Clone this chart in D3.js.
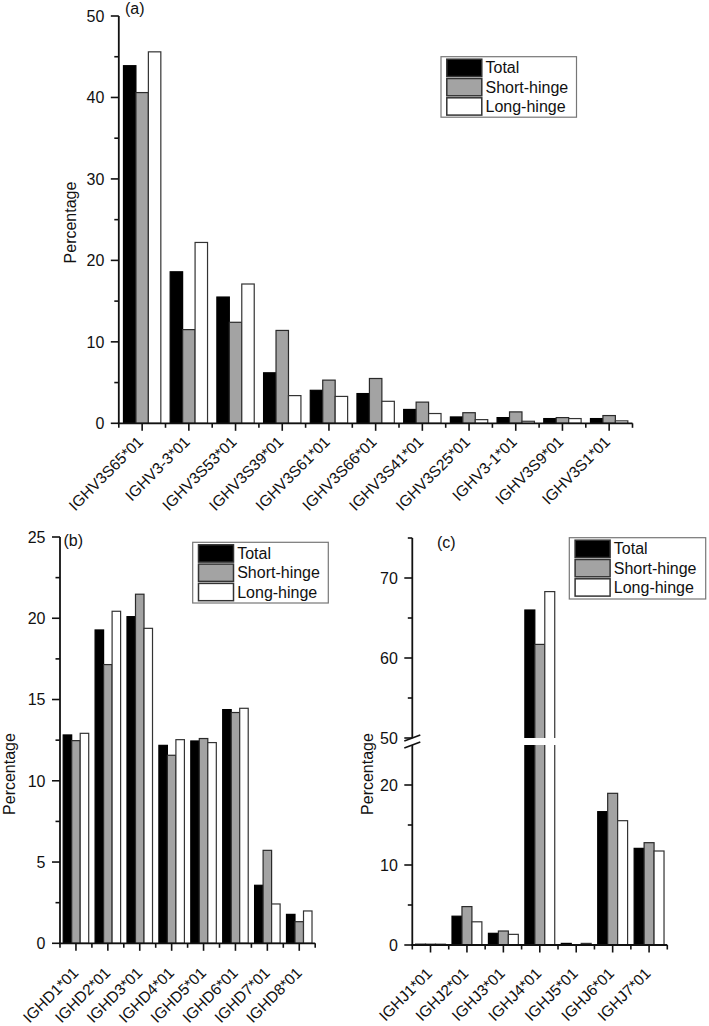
<!DOCTYPE html>
<html><head><meta charset="utf-8">
<script src="https://cdn.jsdelivr.net/npm/d3@7"></script>
<style>
body{margin:0;background:#fff}
text{font-family:"Liberation Sans",Arial,Helvetica,sans-serif;fill:#111}
</style>
</head><body>
<svg id="chart" width="709" height="1026"></svg>
<script>
// ---------- data ----------
const seriesNames = ["Total", "Short-hinge", "Long-hinge"];

const vGenes = ["IGHV3S65*01","IGHV3-3*01","IGHV3S53*01","IGHV3S39*01","IGHV3S61*01","IGHV3S66*01","IGHV3S41*01","IGHV3S25*01","IGHV3-1*01","IGHV3S9*01","IGHV3S1*01"];
const vTotal = [43.9, 18.6, 15.5, 6.2, 4.05, 3.65, 1.7, 0.78, 0.7, 0.58, 0.58];
const vShort = [40.6, 11.5, 12.4, 11.4, 5.3, 5.5, 2.6, 1.3, 1.4, 0.7, 0.95];
const vLong  = [45.6, 22.2, 17.1, 3.4, 3.3, 2.7, 1.2, 0.45, 0.25, 0.58, 0.3];
const vTicks = [0, 10, 20, 30, 40, 50];

const dGenes = ["IGHD1*01","IGHD2*01","IGHD3*01","IGHD4*01","IGHD5*01","IGHD6*01","IGHD7*01","IGHD8*01"];
const dTotal = [12.82, 19.28, 20.1, 12.18, 12.45, 14.38, 3.57, 1.78];
const dShort = [12.47, 17.15, 21.48, 11.57, 12.6, 14.2, 5.72, 1.33];
const dLong  = [12.92, 20.43, 19.38, 12.53, 12.35, 14.46, 2.42, 1.99];
const dTicks = [0, 5, 10, 15, 20, 25];

const jGenes = ["IGHJ1*01","IGHJ2*01","IGHJ3*01","IGHJ4*01","IGHJ5*01","IGHJ6*01","IGHJ7*01"];
const jTotal = [0.1, 3.6, 1.46, 66.0, 0.2, 16.67, 12.08];
const jShort = [0.1, 4.8, 1.75, 61.7, 0.05, 18.96, 12.79];
const jLong  = [0.1, 2.9, 1.33, 68.3, 0.2, 15.54, 11.75];
const jTicksLow = [0, 10, 20];
const jTicksHigh = [50, 60, 70];

const fills = ["#000000", "#a3a3a3", "#ffffff"];
const strokes = ["#000000", "#2a2a2a", "#333333"];

// ---------- drawing ----------
const svg = d3.select("#chart");
svg.append("rect").attr("width", 709).attr("height", 1026).attr("fill", "#fff");

function drawPanel(o) {
  const g = svg.append("g");
  const series = [o.total, o.short, o.long];
  const x = d3.scaleBand().domain(o.cats).range(o.xRange).paddingInner(o.pad).paddingOuter(o.pad / 2);
  const xs = d3.scaleBand().domain(d3.range(3)).range([0, x.bandwidth()]);
  const y = o.y;
  const y0 = y(0);

  o.cats.forEach((c, i) => {
    series.forEach((s, k) => {
      g.append("rect")
        .attr("x", x(c) + xs(k))
        .attr("width", xs.bandwidth())
        .attr("y", y(s[i]))
        .attr("height", Math.max(0, y0 - y(s[i])))
        .attr("fill", fills[k])
        .attr("stroke", strokes[k])
        .attr("stroke-width", 1.2);
    });
  });

  if (o.gap) {
    g.append("rect").attr("x", o.xRange[0] + 2).attr("width", o.xRange[1] - o.xRange[0])
      .attr("y", o.gap[0]).attr("height", o.gap[1] - o.gap[0]).attr("fill", "#fff");
  }

  const ax = o.xRange[0];
  const axisCol = "#111";
  o.ySegments.forEach(seg => {
    g.append("line").attr("x1", ax).attr("x2", ax).attr("y1", seg[0]).attr("y2", seg[1])
      .attr("stroke", axisCol).attr("stroke-width", 1.8);
  });
  o.yMajor.forEach(t => {
    g.append("line").attr("x1", ax - 8).attr("x2", ax).attr("y1", y(t)).attr("y2", y(t))
      .attr("stroke", axisCol).attr("stroke-width", 1.6);
    g.append("text").attr("x", ax - 14.5).attr("y", y(t)).attr("dy", "0.36em")
      .attr("text-anchor", "end").attr("font-size", 16).text(t);
  });
  o.yMinor.forEach(t => {
    g.append("line").attr("x1", ax - 4.5).attr("x2", ax).attr("y1", y(t)).attr("y2", y(t))
      .attr("stroke", axisCol).attr("stroke-width", 1.6);
  });
  g.append("line").attr("x1", ax - 1).attr("x2", o.xRange[1]).attr("y1", y0).attr("y2", y0)
    .attr("stroke", axisCol).attr("stroke-width", 1.8);
  const step = x.step();
  o.cats.forEach((c, i) => {
    const cx = x(c) + x.bandwidth() / 2;
    g.append("line").attr("x1", cx).attr("x2", cx).attr("y1", y0).attr("y2", y0 + 7.5)
      .attr("stroke", axisCol).attr("stroke-width", 1.6);
    g.append("text")
      .attr("transform", `translate(${cx + o.lab[0]},${y0 + o.lab[1]}) rotate(-45)`)
      .attr("text-anchor", "end").attr("font-size", 15.5).text(c);
  });
  d3.range(o.cats.length + 1).forEach(i => {
    const bx = o.xRange[0] + i * step;
    g.append("line").attr("x1", bx).attr("x2", bx).attr("y1", y0).attr("y2", y0 + 4.5)
      .attr("stroke", axisCol).attr("stroke-width", 1.6);
  });

  g.append("text").attr("transform", `translate(${o.titleX},${o.titleY}) rotate(-90)`)
    .attr("text-anchor", "middle").attr("dy", "0.35em").attr("font-size", 16).text("Percentage");
  g.append("text").attr("x", o.tag[0]).attr("y", o.tag[1]).attr("font-size", 16).text(o.tagText);

  const L = o.legend;
  const lg = g.append("g").attr("transform", `translate(${L[0]},${L[1]})`);
  lg.append("rect").attr("width", L[2]).attr("height", L[3]).attr("fill", "#fff")
    .attr("stroke", "#777").attr("stroke-width", 1.2);
  seriesNames.forEach((n, k) => {
    const ry = 2.5 + k * 19.3;
    lg.append("rect").attr("x", 5.8).attr("y", ry).attr("width", 35).attr("height", 17.3)
      .attr("fill", fills[k]).attr("stroke", "#333").attr("stroke-width", 1.5);
    lg.append("text").attr("x", 44.5).attr("y", ry + 14.3).attr("font-size", 16).text(n);
  });
}

// Panel (a)
const yA = d3.scaleLinear().domain([0, 50]).range([423.3, 16]);
drawPanel({
  cats: vGenes, total: vTotal, short: vShort, long: vLong,
  xRange: [118.8, 632.5], pad: 0.2,
  y: yA, ySegments: [[yA(0), yA(50)]],
  yMajor: vTicks, yMinor: d3.range(5, 50, 10),
  lab: [2, 19.5], titleX: 70.5, titleY: 222.5,
  tag: [125, 14], tagText: "(a)",
  legend: [441, 56.7, 135.5, 60.5]
});

// Panel (b)
const yB = d3.scaleLinear().domain([0, 25]).range([943.3, 537]);
drawPanel({
  cats: dGenes, total: dTotal, short: dShort, long: dLong,
  xRange: [60, 315.2], pad: 0.2,
  y: yB, ySegments: [[yB(0), yB(25)]],
  yMajor: dTicks, yMinor: d3.range(2.5, 25, 5),
  lab: [3.5, 30.5], titleX: 9.5, titleY: 774,
  tag: [63.5, 546], tagText: "(b)",
  legend: [192.7, 542.3, 135.6, 60.7]
});

// Panel (c) with broken axis
const yCLow = d3.scaleLinear().domain([0, 25]).range([945, 745]);
const yCHigh = d3.scaleLinear().domain([50, 75]).range([738, 538]);
const yC = v => (v <= 25 ? yCLow(v) : yCHigh(v));
drawPanel({
  cats: jGenes, total: jTotal, short: jShort, long: jLong,
  xRange: [412.3, 667.3], pad: 0.18,
  y: yC, ySegments: [[yCLow(0), yCLow(25)], [yCHigh(50), yCHigh(75)]],
  yMajor: jTicksLow.concat(jTicksHigh), yMinor: [5, 15, 55, 65, 75],
  gap: [yCHigh(50), yCLow(25)],
  lab: [2.5, 29.5], titleX: 367.5, titleY: 774,
  tag: [437, 547.5], tagText: "(c)",
  legend: [569.3, 537.7, 136.4, 61.3]
});
// break marks on the axis
[yCHigh(50), yCLow(25)].forEach(by => {
  svg.append("line").attr("x1", 412.3 - 8).attr("x2", 412.3 + 8)
    .attr("y1", by + 3).attr("y2", by - 3)
    .attr("stroke", "#111").attr("stroke-width", 1.6);
});
</script>
</body></html>
